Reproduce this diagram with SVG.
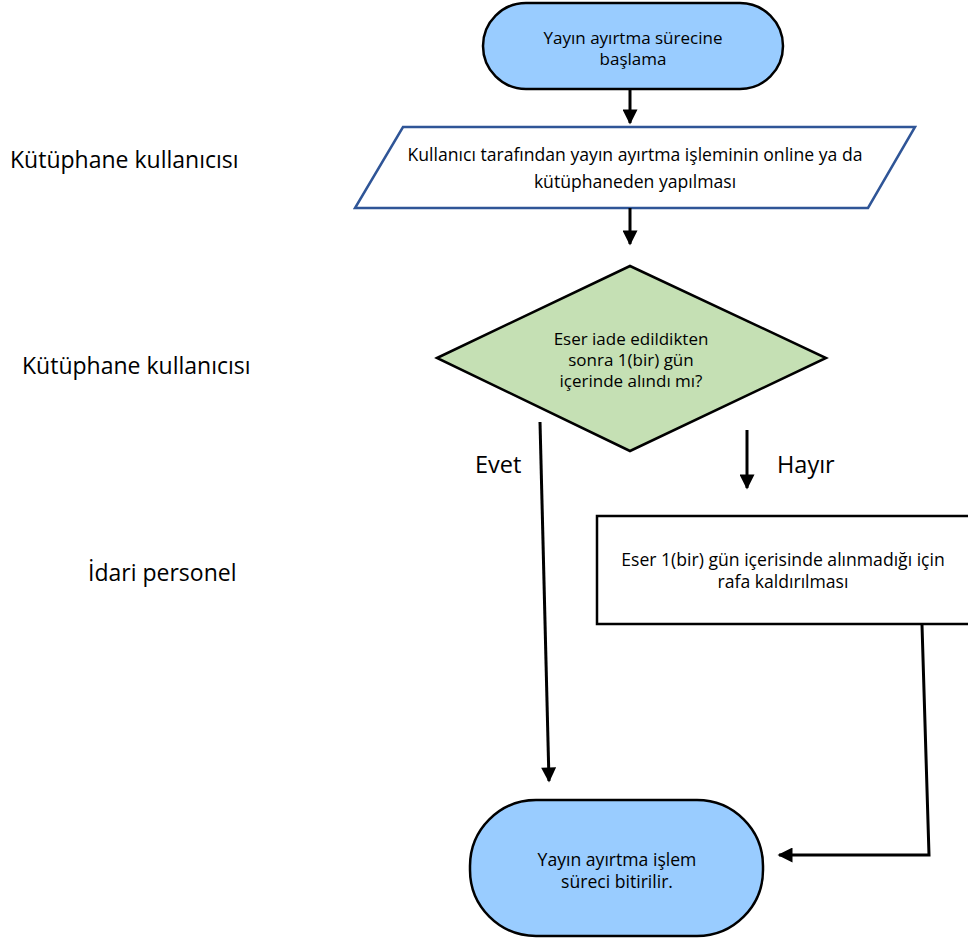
<svg xmlns="http://www.w3.org/2000/svg" width="968" height="940" viewBox="0 0 968 940">
<defs>
<style>
text{font-family:"Open Sans","Noto Sans","Liberation Sans",sans-serif;fill:#000;}
.box{font-size:17.6px;text-anchor:middle;}
.tight{font-size:17px;}
.lane{font-size:23px;}
.lbl{font-size:23.5px;}
.term{fill:#99CCFF;stroke:#000;stroke-width:2.5;}
.edge{fill:none;stroke:#000;stroke-width:3;}
</style>
<marker id="ah" viewBox="0 0 10 10" refX="9" refY="5" markerWidth="5.5" markerHeight="5" orient="auto" markerUnits="strokeWidth">
<path d="M0,0 L10,5 L0,10 z" fill="#000"/>
</marker>
</defs>
<rect width="968" height="940" fill="#fff"/>
<g id="lanes">
<text class="lane" x="10" y="168">Kütüphane kullanıcısı</text>
<text class="lane" x="22" y="374">Kütüphane kullanıcısı</text>
<text class="lane" x="88" y="581">İdari personel</text>
</g>
<g id="start">
<rect class="term" x="483" y="3" width="300" height="86" rx="43" ry="43"/>
<text class="box tight" x="633" y="44">Yayın ayırtma sürecine</text>
<text class="box tight" x="633" y="65">başlama</text>
</g>
<g id="input">
<polygon points="403,127 915,127 868,208 355,208" fill="#fff" stroke="#2F5597" stroke-width="2.5"/>
<text class="box" x="635" y="161">Kullanıcı tarafından yayın ayırtma işleminin online ya da</text>
<text class="box" x="635" y="188">kütüphaneden yapılması</text>
</g>
<g id="decision">
<polygon points="437,358 630,266 826,358 630,451" fill="#C5E0B4" stroke="#000" stroke-width="2.5"/>
<text class="box tight" x="631" y="345">Eser iade edildikten</text>
<text class="box tight" x="631" y="366">sonra 1(bir) gün</text>
<text class="box tight" x="631" y="387">içerinde alındı mı?</text>
</g>
<g id="shelve">
<rect x="597" y="516" width="380" height="108" fill="#fff" stroke="#000" stroke-width="2.5"/>
<text class="box" x="783" y="566">Eser 1(bir) gün içerisinde alınmadığı için</text>
<text class="box" x="783" y="588">rafa kaldırılması</text>
</g>
<g id="end">
<rect class="term" x="470" y="800" width="293" height="136" rx="66" ry="66"/>
<text class="box" x="617" y="866">Yayın ayırtma işlem</text>
<text class="box" x="617" y="888">süreci bitirilir.</text>
</g>
<g id="connectors">
<line class="edge" x1="630" y1="89" x2="630" y2="123" marker-end="url(#ah)"/>
<line class="edge" x1="630" y1="208" x2="630" y2="244" marker-end="url(#ah)"/>
<line class="edge" x1="540" y1="422" x2="549" y2="781" marker-end="url(#ah)"/>
<line class="edge" x1="747" y1="430" x2="747" y2="488" marker-end="url(#ah)"/>
<polyline class="edge" points="922,625 929,855 779,855" marker-end="url(#ah)"/>
<text class="lbl" x="475" y="473">Evet</text>
<text class="lbl" x="777" y="473">Hayır</text>
</g>
</svg>
